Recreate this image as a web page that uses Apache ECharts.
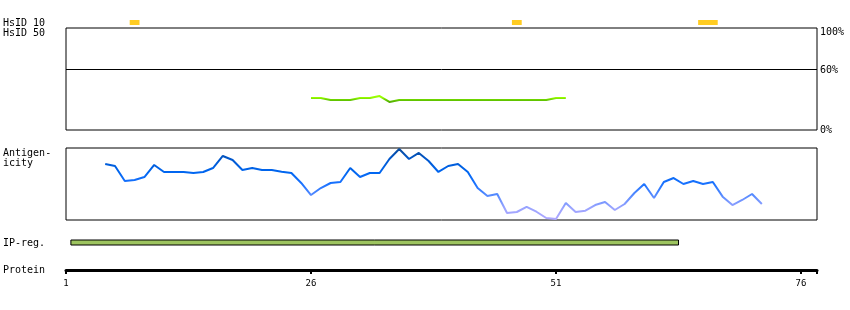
<!DOCTYPE html>
<html>
<head>
<meta charset="utf-8">
<script src="https://cdn.jsdelivr.net/npm/echarts@6/dist/echarts.min.js"></script>
<style>html,body{margin:0;padding:0;background:#fff}#c{width:850px;height:310px}</style>
</head>
<body>
<div id="c"></div>
<script>
// ---- data ----
const X_MIN = 1;
const X_MAX = 77.63;
const proteinTicks = [1, 26, 51, 76];
const hsid10Regions = [[8, 8], [47, 47], [66, 67]];          // residue start/end
const ipRegions = [[2, 63]];
const hsid50Start = 26;
const hsid50Values = [31.4, 31.4, 29.4, 29.4, 29.4, 31.4, 31.4, 33.3, 27.5,
  29.4, 29.4, 29.4, 29.4, 29.4, 29.4, 29.4, 29.4, 29.4, 29.4, 29.4, 29.4, 29.4, 29.4, 29.4, 29.4,
  31.4, 31.4];
const hsid50Ticks = [0, 60, 100];
const hsid50Threshold = 60;
const antiStart = 5;
const antiValues = [77.8, 75.0, 54.2, 55.6, 59.7, 76.4, 66.7, 66.7, 66.7, 65.3,
  66.7, 72.2, 88.9, 83.3, 69.4, 72.2, 69.4, 69.4, 67.1, 65.3,
  51.4, 34.7, 44.4, 51.4, 52.8, 72.2, 59.7, 65.3, 65.3, 84.7,
  98.6, 84.7, 93.1, 81.9, 66.7, 75.0, 77.8, 66.7, 44.4, 33.3,
  36.1, 9.7, 11.1, 18.1, 11.5, 2.8, 1.4, 23.6, 11.1, 12.9,
  20.8, 25.0, 13.9, 22.2, 37.5, 50.0, 30.6, 52.8, 58.3, 50.0,
  54.2, 50.0, 52.8, 32.4, 20.8, 27.8, 36.1, 22.2];
const trackLabels = [
  {text: 'HsID 10', y: 23.5}, {text: 'HsID 50', y: 33.5},
  {text: 'Antigen-', y: 153.5}, {text: 'icity', y: 163.5},
  {text: 'IP-reg.', y: 243}, {text: 'Protein', y: 270}
];

// ---- build ----
const FONT = 'DejaVu Sans Mono';
const hsid50Data = hsid50Values.map((v, i) => [hsid50Start + i, v]);
const antiData = antiValues.map((v, i) => [antiStart + i, v]);
const toRange = r => [r[0] - 0.5, r[1] + 0.5];

function rectRenderer(style) {
  return function (params, api) {
    const p0 = api.coord([api.value(0), 1]);
    const p1 = api.coord([api.value(1), 0]);
    return {type: 'rect', shape: {x: p0[0], y: p0[1], width: p1[0] - p0[0], height: p1[1] - p0[1]}, style: style};
  };
}

const L = 66, W = 751;
const grids = [
  {left: L, width: W, top: 20, height: 5},
  {left: L, width: W, top: 28, height: 102, show: true, borderColor: '#000', borderWidth: 1},
  {left: L, width: W, top: 148, height: 72, show: true, borderColor: '#000', borderWidth: 1},
  {left: L, width: W, top: 240, height: 5},
  {left: L, width: W, top: 269, height: 1}
];
const xAxes = grids.map((g, i) => ({
  type: 'value', gridIndex: i, min: X_MIN, max: X_MAX, show: i === 4,
  splitLine: {show: false},
  axisLine: {show: i === 4, lineStyle: {color: '#000', width: 3}},
  axisTick: {show: i === 4, length: 4, lineStyle: {color: '#000', width: 2},
    customValues: proteinTicks.concat([X_MAX])},
  axisLabel: {show: i === 4, customValues: proteinTicks, color: '#000', fontSize: 9,
    fontFamily: FONT, margin: 9}
}));
const yAxes = [
  {type: 'value', gridIndex: 0, min: 0, max: 1, show: false},
  {type: 'value', gridIndex: 1, min: 0, max: 100, position: 'right',
    axisLine: {show: false}, axisTick: {show: false}, splitLine: {show: false},
    axisLabel: {customValues: hsid50Ticks, margin: 3, color: '#000', fontSize: 10, fontFamily: FONT,
      formatter: v => v === 100 ? '{t|' + v + '%}' : (v === 60 ? '{m|' + v + '%}' : v + '%'),
      rich: {t: {padding: [9, 0, 0, 0], color: '#000', fontSize: 10, fontFamily: FONT},
             m: {padding: [3, 0, 0, 0], color: '#000', fontSize: 10, fontFamily: FONT}}}},
  {type: 'value', gridIndex: 2, min: 0, max: 100, show: false},
  {type: 'value', gridIndex: 3, min: 0, max: 1, show: false},
  {type: 'value', gridIndex: 4, min: 0, max: 1, show: false}
];

const option = {
  animation: false,
  backgroundColor: '#fff',
  grid: grids,
  xAxis: xAxes,
  yAxis: yAxes,
  visualMap: [
    {show: false, type: 'continuous', seriesIndex: 1, dimension: 1, min: 27, max: 32,
      inRange: {color: ['#4fa800', '#66cc00', '#99ff00']}},
    {show: false, type: 'continuous', seriesIndex: 2, dimension: 1, min: 0, max: 100,
      inRange: {color: ['#b0a8ff', '#9aa4ff', '#5a8cff', '#1a72ff', '#0066f0', '#0058d0', '#0a4a98']}}
  ],
  series: [
    {type: 'custom', xAxisIndex: 0, yAxisIndex: 0, data: hsid10Regions.map(toRange),
      renderItem: rectRenderer({fill: '#ffcc22'}), silent: true},
    {type: 'line', xAxisIndex: 1, yAxisIndex: 1, data: hsid50Data, showSymbol: false, symbol: 'none',
      lineStyle: {width: 2}, silent: true,
      markLine: {silent: true, symbol: 'none', label: {show: false},
        lineStyle: {color: '#000', width: 1, type: 'solid'}, data: [{yAxis: hsid50Threshold}]}},
    {type: 'line', xAxisIndex: 2, yAxisIndex: 2, data: antiData, showSymbol: false, symbol: 'none',
      lineStyle: {width: 2}, silent: true},
    {type: 'custom', xAxisIndex: 3, yAxisIndex: 3, data: ipRegions.map(toRange),
      renderItem: rectRenderer({fill: '#9dc45f', stroke: '#000', lineWidth: 1}), silent: true}
  ],
  graphic: trackLabels.map(t => ({
    type: 'text', x: 3, y: t.y, silent: true,
    style: {text: t.text, fill: '#000', font: '10px "' + FONT + '"', verticalAlign: 'middle', align: 'left'}
  }))
};
const chart = echarts.init(document.getElementById('c'), null, {renderer: 'canvas'});
chart.setOption(option);
</script>
</body>
</html>
